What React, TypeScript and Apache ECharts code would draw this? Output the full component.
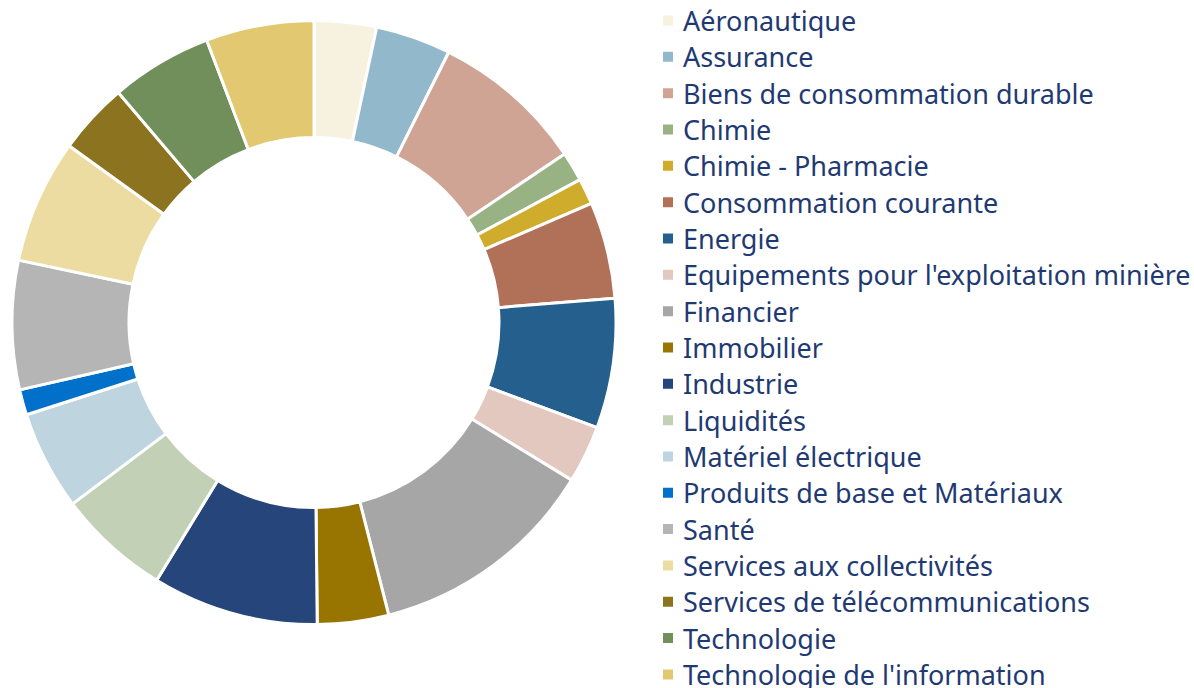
import React, { useEffect, useRef } from "react";
import * as echarts from "echarts";

const categories = [
  "Aéronautique",
  "Assurance",
  "Biens de consommation durable",
  "Chimie",
  "Chimie - Pharmacie",
  "Consommation courante",
  "Energie",
  "Equipements pour l'exploitation minière",
  "Financier",
  "Immobilier",
  "Industrie",
  "Liquidités",
  "Matériel électrique",
  "Produits de base et Matériaux",
  "Santé",
  "Services aux collectivités",
  "Services de télécommunications",
  "Technologie",
  "Technologie de l'information",
];

const values = [
  3.33, 4.03, 8.22, 1.58, 1.39, 5.17, 6.94, 3.08, 12.28, 3.81, 8.89, 6.03, 5.31,
  1.36, 6.89, 6.64, 3.83, 5.44, 5.78,
];

const colors = [
  "#F7F1E0",
  "#92B8CC",
  "#CFA495",
  "#98B283",
  "#D0AC2C",
  "#B07158",
  "#245F8E",
  "#E2C8BE",
  "#A6A6A6",
  "#987400",
  "#26457A",
  "#C2D1B5",
  "#BED4DF",
  "#0070CB",
  "#B5B5B5",
  "#EDDCA2",
  "#8B731F",
  "#718F5A",
  "#E2C870",
];

export default function App() {
  const ref = useRef<HTMLDivElement>(null);
  useEffect(() => {
    document.body.style.margin = "0";
    const chart = echarts.init(ref.current!, null, { renderer: "svg" });
    chart.setOption({
      animation: false,
      color: colors,
      legend: {
        orient: "vertical",
        left: 656,
        top: 2,
        height: 2000,
        icon: "rect",
        itemWidth: 12,
        itemHeight: 12,
        itemGap: 9.33,
        selectedMode: false,
        textStyle: {
          fontFamily: "Noto Sans",
          fontSize: 27,
          lineHeight: 27,
          color: "#1F3A73",
          padding: [0, 0, 0, 4],
        },
        data: categories,
      },
      series: [
        {
          type: "pie",
          center: [314, 322.5],
          radius: [185, 302],
          startAngle: 90,
          clockwise: true,
          label: { show: false },
          labelLine: { show: false },
          itemStyle: { borderColor: "#ffffff", borderWidth: 3 },
          emphasis: { disabled: true },
          data: categories.map((name, i) => ({ name, value: values[i] })),
        },
      ],
    });
    return () => chart.dispose();
  }, []);
  return (
    <div
      ref={ref}
      style={{ position: "absolute", left: 0, top: 0, width: 1194, height: 688 }}
    />
  );
}
